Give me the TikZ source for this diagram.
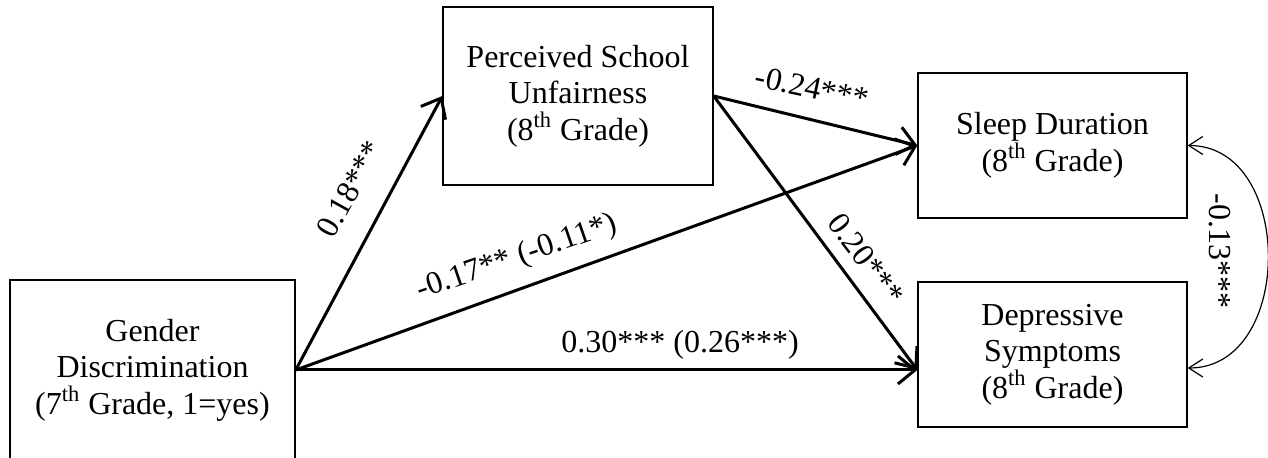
\documentclass[tikz,border=0pt]{standalone}
\usepackage{fontspec}
\setmainfont{Liberation Serif}
\usetikzlibrary{arrows.meta}
\tikzset{
  varbox/.style={draw, rectangle, line width=0.7pt, align=center, inner sep=0pt},
  pathline/.style={-{Straight Barb[length=8.5pt, width=14pt]}, line width=1.5pt},
  covline/.style={{Straight Barb[length=7pt, width=9pt]}-{Straight Barb[length=7pt, width=9pt]}, line width=0.6pt},
  coef/.style={inner sep=0pt}
}
\begin{document}
\begin{tikzpicture}[x=0.5pt, y=-0.5pt, font=\fontsize{16}{18.3}\selectfont]
        \useasboundingbox (0,0) rectangle (1268,458);
        \node[varbox, minimum width=142.5pt, minimum height=90pt] (gender) at (152.5,370) {Gender\\Discrimination\\(7\textsuperscript{th} Grade, 1=yes)};
        \node[varbox, minimum width=135pt, minimum height=89pt] (unfair) at (578,96) {Perceived School\\Unfairness\\(8\textsuperscript{th} Grade)};
        \node[varbox, minimum width=134.5pt, minimum height=72.5pt] (sleep) at (1052.5,145.5) {Sleep Duration\\(8\textsuperscript{th} Grade)};
        \node[varbox, minimum width=134.5pt, minimum height=72.5pt] (depr) at (1052.5,354.5) {Depressive\\Symptoms\\(8\textsuperscript{th} Grade)};
        \draw[pathline] (gender.east) -- (unfair.west);
        \draw[pathline] (gender.east) -- (sleep.west);
        \draw[pathline] (gender.east) -- ([yshift=-7.75pt]depr.west);
        \draw[pathline] (unfair.east) -- (sleep.west);
        \draw[pathline] (unfair.east) -- ([yshift=-7.75pt]depr.west);
        \draw[covline] (sleep.east) .. controls +(107,0) and +(107,0) .. ([yshift=-6.75pt]depr.east);
        \node[coef, rotate=61] at (350,189) {0.18***};
        \node[coef, rotate=-12] at (812,88) {-0.24***};
        \node[coef, rotate=19] at (517,258) {-0.17** (-0.11*)};
        \node[coef, rotate=-53] at (866,259) {0.20***};
        \node[coef] at (680,345) {0.30*** (0.26***)};
        \node[coef, rotate=-90] at (1220,251) {-0.13***};
    \end{tikzpicture}
\end{document}
